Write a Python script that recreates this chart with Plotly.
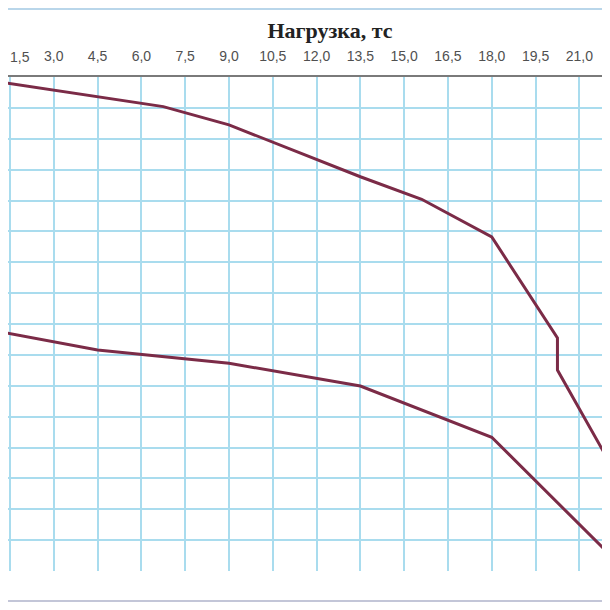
import plotly.graph_objects as go

# Load (tc) and settlement (grid units)
load_upper = [0.0, 6.75, 9.0, 13.5, 15.6, 18.0, 20.25, 20.25, 22.5]
settle_upper = [0.0, 0.96, 1.55, 3.23, 3.96, 5.18, 8.45, 9.49, 13.26]

load_lower = [0.0, 4.5, 9.0, 13.5, 18.0, 22.5]
settle_lower = [8.05, 8.84, 9.27, 10.01, 11.67, 15.9]

x_range = [1.4315, 22.05]
y_range = [16, 0]
edge_labels = ["1,5", "22,5"]   # tick labels sitting on the cropped edges

LINE_COLOR = "#7b2b47"
GRID_COLOR = "#a9dcee"
TICK_FONT = dict(family="Liberation Sans", size=14, color="#505050")

# page has an 8px body margin: figure coords = page coords - 8
W, H = 602, 594
TOP, BOT = 69, 563          # plot area top / bottom in figure px
PH = BOT - TOP

fig = go.Figure()
for xs, ys in [(load_upper, settle_upper), (load_lower, settle_lower)]:
    fig.add_trace(go.Scatter(x=xs, y=ys, mode="lines",
                             line=dict(color=LINE_COLOR, width=3),
                             showlegend=False, hoverinfo="skip"))

fig.update_layout(
    width=W, height=H,
    margin=dict(l=0, r=0, t=TOP, b=H - BOT, autoexpand=False),
    paper_bgcolor="white", plot_bgcolor="white",
    separators=", ",
    title=dict(text="<b>Нагрузка, тс</b>", x=322/W, y=1-22/H,
               xanchor="center", yanchor="middle",
               font=dict(family="Liberation Serif", size=22, color="#222")),
    xaxis=dict(side="top", range=x_range, tick0=0, dtick=1.5,
               tickformat=".1f", showgrid=True, gridcolor=GRID_COLOR,
               gridwidth=1.5, showline=True, linecolor="#7a7a7a", linewidth=1.5,
               ticks="", ticklabelstandoff=9, zeroline=False,
               automargin=False, tickfont=TICK_FONT),
    yaxis=dict(range=y_range, dtick=1, tick0=0, showticklabels=False,
               showgrid=True, gridcolor=GRID_COLOR, gridwidth=1.5,
               zeroline=False, showline=False, ticks="", automargin=False),
    shapes=[
        dict(type="line", xref="paper", yref="paper", x0=0, x1=1,
             y0=(BOT - 1)/PH, y1=(BOT - 1)/PH,
             line=dict(color="#b9d6ea", width=2)),
        dict(type="line", xref="paper", yref="paper", x0=0, x1=1,
             y0=(BOT - 593)/PH, y1=(BOT - 593)/PH,
             line=dict(color="#c3c6d8", width=2)),
    ],
    annotations=[
        dict(text=edge_labels[0], xref="paper", yref="paper", x=0,
             y=(BOT - 49)/PH, xanchor="left", yanchor="middle",
             showarrow=False, font=TICK_FONT),
        dict(text=edge_labels[1], xref="paper", yref="paper", x=612/W,
             y=(BOT - 49)/PH, xanchor="center", yanchor="middle",
             showarrow=False, font=TICK_FONT),
    ],
)

fig.write_html("out.html")
